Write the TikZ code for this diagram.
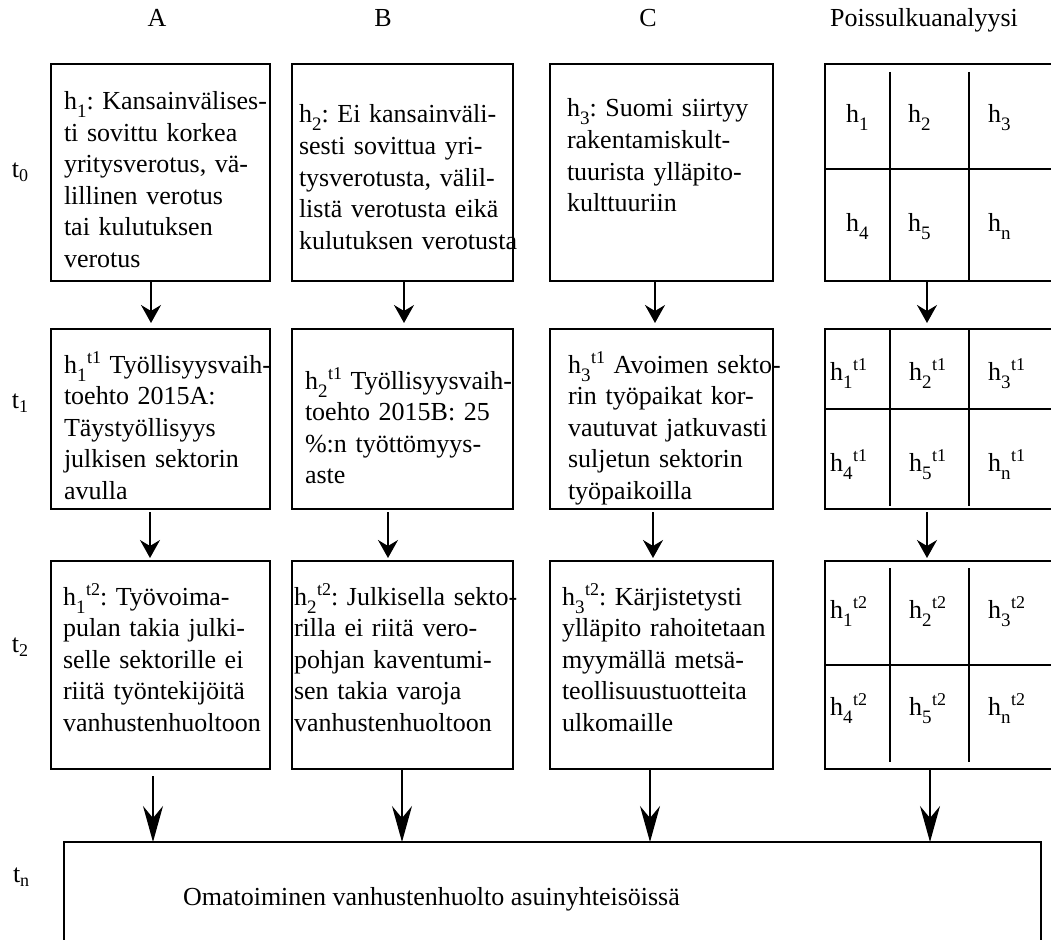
\documentclass[tikz,border=0pt]{standalone}
\usepackage{fontspec}
\setmainfont{Liberation Serif}
\usetikzlibrary{arrows.meta}
\frenchspacing

% index helpers: lowered index, raised time mark, time-step index
\newcommand\hsub[1]{\raisebox{-8pt}{\fontsize{19}{19}\selectfont #1}}
\newcommand\hsup[1]{\kern0.5pt\raisebox{10pt}{\fontsize{18}{18}\selectfont #1}}
\newcommand\tsub[1]{\raisebox{-4pt}{\fontsize{18}{18}\selectfont #1}}

\begin{document}
\begin{tikzpicture}[x=1pt,y=-1pt,
  box/.style={draw, line width=2.4pt, rectangle, inner sep=0pt, outer sep=0pt},
  bigbox/.style={draw, line width=2pt, rectangle, inner sep=0pt, outer sep=0pt},
  txt/.style={anchor=base west, inner sep=0pt, outer sep=0pt, text width=330pt,
    align=left, font=\fontsize{26}{31.5}\selectfont},
  lab/.style={anchor=base west, inner sep=0pt, outer sep=0pt, font=\fontsize{26}{31.5}\selectfont},
  head/.style={anchor=base, inner sep=0pt, outer sep=0pt, font=\fontsize{26}{31.5}\selectfont},
  divider/.style={line width=1.8pt},
  upper/.style={line width=2pt, -{Stealth[length=18pt,width=20pt,inset=6pt]}},
  lower/.style={line width=1.3pt, -{Stealth[length=36pt,width=20pt,inset=12pt]}}
]
\useasboundingbox (0,0) rectangle (1051,939);
\clip (0,0) rectangle (1051,939);

% column headings
\node[head] (hA) at (157,27) {A};
\node[head] (hB) at (383,27) {B};
\node[head] (hC) at (648,27) {C};
\node[head] (hP) at (924,27) {Poissulkuanalyysi};

% time steps
\node[lab] (t0) at (12,177) {t\tsub{0}};
\node[lab] (t1) at (12,408) {t\tsub{1}};
\node[lab] (t2) at (12,652) {t\tsub{2}};
\node[lab] (tn) at (13,882) {t\tsub{n}};

% row t0
\node[box, minimum width=219pt, minimum height=217pt] (a0) at (160.5,172.5) {};
\node[box, minimum width=221pt, minimum height=217pt] (b0) at (402.5,172.5) {};
\node[box, minimum width=223pt, minimum height=217pt] (c0) at (661.5,172.5) {};
\node[box, minimum width=240pt, minimum height=217pt] (g0) at (945,172.5) {};

% row t1
\node[box, minimum width=219pt, minimum height=180pt] (a1) at (160.5,419) {};
\node[box, minimum width=221pt, minimum height=180pt] (b1) at (402.5,419) {};
\node[box, minimum width=223pt, minimum height=180pt] (c1) at (661.5,419) {};
\node[box, minimum width=240pt, minimum height=180pt] (g1) at (945,419) {};

% row t2
\node[box, minimum width=219pt, minimum height=208pt] (a2) at (160.5,665) {};
\node[box, minimum width=221pt, minimum height=208pt] (b2) at (402.5,665) {};
\node[box, minimum width=223pt, minimum height=208pt] (c2) at (661.5,665) {};
\node[box, minimum width=240pt, minimum height=208pt] (g2) at (945,665) {};

% final state
\node[bigbox, minimum width=977pt, minimum height=160pt] (om) at (552.5,922) {};
\node[lab] (omt) at (183,905) {Omatoiminen vanhustenhuolto asuinyhteisöissä};

% scenario texts
\node[txt] (a0t) at (64,110) {h\hsub{1}: Kansainvälises-\\ti sovittu korkea\\yritysverotus, vä-\\lillinen verotus\\tai kulutuksen\\verotus};
\node[txt] (b0t) at (299,123) {h\hsub{2}: Ei kansainväli-\\sesti sovittua yri-\\tysverotusta, välil-\\listä verotusta eikä\\kulutuksen verotusta};
\node[txt] (c0t) at (567,117) {h\hsub{3}: Suomi siirtyy\\rakentamiskult-\\tuurista ylläpito-\\kulttuuriin};

\node[txt] (a1t) at (64,373) {h\hsub{1}\hsup{t1} Työllisyysvaih-\\toehto 2015A:\\Täystyöllisyys\\julkisen sektorin\\avulla};
\node[txt] (b1t) at (305,389) {h\hsub{2}\hsup{t1} Työllisyysvaih-\\toehto 2015B: 25\\\%:n työttömyys-\\aste};
\node[txt] (c1t) at (568,373) {h\hsub{3}\hsup{t1} Avoimen sekto-\\rin työpaikat kor-\\vautuvat jatkuvasti\\suljetun sektorin\\työpaikoilla};

\node[txt] (a2t) at (63,605) {h\hsub{1}\hsup{t2}: Työvoima-\\pulan takia julki-\\selle sektorille ei\\riitä työntekijöitä\\vanhustenhuoltoon};
\node[txt] (b2t) at (294,605) {h\hsub{2}\hsup{t2}: Julkisella sekto-\\rilla ei riitä vero-\\pohjan kaventumi-\\sen takia varoja\\vanhustenhuoltoon};
\node[txt] (c2t) at (562,605) {h\hsub{3}\hsup{t2}: Kärjistetysti\\ylläpito rahoitetaan\\myymällä metsä-\\teollisuustuotteita\\ulkomaille};

% exclusion-analysis grids
\draw[divider] ([yshift=3.5pt]g0.west) -- ([yshift=3.5pt]g0.east);
\draw[divider] (890,72) -- (890,281);
\draw[divider] (969,72) -- (969,281);
\draw[divider] ([yshift=10pt]g1.west) -- ([yshift=10pt]g1.east);
\draw[divider] (890,329) -- (890,506);
\draw[divider] (969,329) -- (969,506);
\draw[divider] (g2.west) -- (g2.east);
\draw[divider] (890,568) -- (890,762);
\draw[divider] (969,568) -- (969,762);

\node[lab] (g0h1) at (846,123) {h\hsub{1}};
\node[lab] (g0h2) at (908,123) {h\hsub{2}};
\node[lab] (g0h3) at (988,123) {h\hsub{3}};
\node[lab] (g0h4) at (846,231) {h\hsub{4}};
\node[lab] (g0h5) at (908,231) {h\hsub{5}};
\node[lab] (g0hn) at (988,231) {h\hsub{n}};

\node[lab] (g1h1) at (830,380) {h\hsub{1}\hsup{t1}};
\node[lab] (g1h2) at (909,380) {h\hsub{2}\hsup{t1}};
\node[lab] (g1h3) at (988,380) {h\hsub{3}\hsup{t1}};
\node[lab] (g1h4) at (830,471) {h\hsub{4}\hsup{t1}};
\node[lab] (g1h5) at (909,471) {h\hsub{5}\hsup{t1}};
\node[lab] (g1hn) at (988,471) {h\hsub{n}\hsup{t1}};

\node[lab] (g2h1) at (830,618) {h\hsub{1}\hsup{t2}};
\node[lab] (g2h2) at (909,618) {h\hsub{2}\hsup{t2}};
\node[lab] (g2h3) at (988,618) {h\hsub{3}\hsup{t2}};
\node[lab] (g2h4) at (830,715) {h\hsub{4}\hsup{t2}};
\node[lab] (g2h5) at (909,715) {h\hsub{5}\hsup{t2}};
\node[lab] (g2hn) at (988,715) {h\hsub{n}\hsup{t2}};

% t0 -> t1
\draw[upper, shorten >=6pt] ([xshift=-9.5pt]a0.south) -- ([xshift=-9.5pt]a1.north);
\draw[upper, shorten >=6pt] ([xshift=1.5pt]b0.south) -- ([xshift=1.5pt]b1.north);
\draw[upper, shorten >=6pt] ([xshift=-6.5pt]c0.south) -- ([xshift=-6.5pt]c1.north);
\draw[upper, shorten >=6pt] ([xshift=-18pt]g0.south) -- ([xshift=-18pt]g1.north);

% t1 -> t2
\draw[upper, shorten <=3pt, shorten >=3pt] ([xshift=-10.5pt]a1.south) -- ([xshift=-10.5pt]a2.north);
\draw[upper, shorten <=3pt, shorten >=3pt] ([xshift=-14.5pt]b1.south) -- ([xshift=-14.5pt]b2.north);
\draw[upper, shorten <=3pt, shorten >=3pt] ([xshift=-8.5pt]c1.south) -- ([xshift=-8.5pt]c2.north);
\draw[upper, shorten <=3pt, shorten >=3pt] ([xshift=-18pt]g1.south) -- ([xshift=-18pt]g2.north);

% t2 -> tn
\draw[lower, shorten <=7pt] ([xshift=-7.5pt]a2.south) -- ([xshift=-7.5pt]a2.south |- om.north);
\draw[lower] ([xshift=-0.5pt]b2.south) -- ([xshift=-0.5pt]b2.south |- om.north);
\draw[lower] ([xshift=-11.5pt]c2.south) -- ([xshift=-11.5pt]c2.south |- om.north);
\draw[lower] ([xshift=-15pt]g2.south) -- ([xshift=-15pt]g2.south |- om.north);
\end{tikzpicture}
\end{document}
